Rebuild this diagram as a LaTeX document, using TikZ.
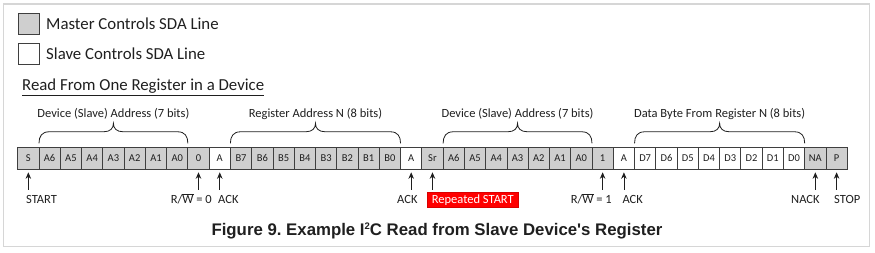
\documentclass[tikz,border=0pt]{standalone}
\usepackage{fontspec}
\setmainfont{Carlito}
\newfontfamily\titlefont{Liberation Sans}
\usetikzlibrary{arrows.meta,calc}
\definecolor{mg}{HTML}{CFCFCF}
\definecolor{txt}{HTML}{1F1F1F}
\definecolor{bd}{HTML}{3F3F3F}
\definecolor{frm}{HTML}{D6D6D6}
\definecolor{rs}{HTML}{FF0000}
\frenchspacing
\newcommand\mybrace[2]{%
  \draw[brc] let \p1=(#1.north west), \p2=(#2.north east),
    \p3=($(#1.north west)!0.5!(#2.north east)$) in
    (\x1,\y1+4pt) .. controls (\x1,\y1+11pt) and (\x1+3pt,\y1+15.5pt) .. (\x1+10pt,\y1+15.5pt)
    -- (\x3-10pt,\y1+15.5pt) .. controls (\x3-3pt,\y1+15.5pt) and (\x3,\y1+19pt) .. (\x3,\y1+24pt)
    .. controls (\x3,\y1+19pt) and (\x3+3pt,\y1+15.5pt) .. (\x3+10pt,\y1+15.5pt)
    -- (\x2-10pt,\y1+15.5pt) .. controls (\x2-3pt,\y1+15.5pt) and (\x2,\y1+11pt) .. (\x2,\y1+4pt);}
\begin{document}
\begin{tikzpicture}[x=1pt,y=-1pt,
  cell/.style={draw=bd, line width=0.8pt, minimum width=21.27pt, minimum height=22pt,
    inner sep=0pt, outer sep=0pt, anchor=west, font=\fontsize{10.5}{12}\selectfont, text=txt},
  lbl/.style={inner sep=0pt, font=\fontsize{12.5}{15}\selectfont, text=txt},
  big/.style={inner sep=0pt, font=\fontsize{16.8}{20}\selectfont, text=txt},
  arr/.style={-{Stealth[length=6.5pt,width=5.5pt]}, line width=0.8pt, draw=txt},
  brc/.style={line width=0.8pt, draw=txt}]
\useasboundingbox (0,0) rectangle (875,253);
\draw[frm, line width=1.2pt] (3.5,4) rectangle (869.5,246.5);

% legend
\node[cell, fill=mg, minimum width=21pt, minimum height=21pt] (lgm) at (18,23.8) {};
\node[big, anchor=base west] (lgmt) at (46,29.4) {Master Controls SDA Line};
\node[cell, fill=white, minimum width=21pt, minimum height=21pt] (lgs) at (18,54.2) {};
\node[big, anchor=base west] (lgst) at (46,59.8) {Slave Controls SDA Line};
\node[big, anchor=base west] (sub) at (22,90.5) {\underline{Read From One Register in a Device}};

% cells
\foreach \t/\f [count=\i from 0] in {S/mg,A6/mg,A5/mg,A4/mg,A3/mg,A2/mg,A1/mg,A0/mg,0/mg,A/white,
  B7/mg,B6/mg,B5/mg,B4/mg,B3/mg,B2/mg,B1/mg,B0/mg,A/white,Sr/mg,
  A6/mg,A5/mg,A4/mg,A3/mg,A2/mg,A1/mg,A0/mg,1/mg,A/white,
  D7/white,D6/white,D5/white,D4/white,D3/white,D2/white,D1/white,D0/white,NA/mg,P/mg}
  \node[cell, fill=\f] (c\i) at ({17.7+21.27*\i},158.3) {\t};

% braces and their labels
\mybrace{c1}{c7}
\mybrace{c10}{c17}
\mybrace{c20}{c26}
\mybrace{c29}{c36}
\node[lbl, anchor=base] (br1) at ($(c1.north west)!0.5!(c7.north east)+(0,-30)$) {Device (Slave) Address (7 bits)};
\node[lbl, anchor=base] (br2) at ($(c10.north west)!0.5!(c17.north east)+(0,-30)$) {Register Address N (8 bits)};
\node[lbl, anchor=base] (br3) at ($(c20.north west)!0.5!(c26.north east)+(0,-30)$) {Device (Slave) Address (7 bits)};
\node[lbl, anchor=base] (br4) at ($(c29.north west)!0.5!(c36.north east)+(0,-30)$) {Data Byte From Register N (8 bits)};

% arrows
\foreach \k in {0,8,9,18,19,27,28,37,38}{
  \coordinate (a\k) at ($(c\k.south)+(0,20.7)$);
  \draw[arr] (a\k) -- ([yshift=-3pt]c\k.south);
}

% arrow labels
\node[lbl, anchor=base west] (lstart) at (26,204) {START};
\node[lbl, anchor=base east] (lrw0) at (212,204) {R/$\overline{\hbox{W}}$ = 0};
\node[lbl, anchor=base west] (lack1) at (218,204) {ACK};
\node[lbl, anchor=base west] (lack2) at (397,204) {ACK};
\node[fill=rs, draw=red!85!black, line width=0.6pt, text=white, inner sep=0pt,
  font=\fontsize{12.5}{15}\selectfont, minimum width=91.6pt, minimum height=14.6pt,
  anchor=west] (lrs) at (426.7,200) {Repeated START};
\node[lbl, anchor=base east] (lrw1) at (612,204) {R/$\overline{\hbox{W}}$ = 1};
\node[lbl, anchor=base west] (lack3) at (622.3,204) {ACK};
\node[lbl, anchor=base west] (lnack) at (791,204) {NACK};
\node[lbl, anchor=base west] (lstop) at (834,204) {STOP};

% caption
\node[inner sep=0pt, anchor=base, text=txt, font=\titlefont\bfseries\fontsize{16.8}{20}\selectfont] (cap)
  at (437,236) {Figure 9. Example I\raisebox{6.5pt}{\fontsize{9.5}{10}\selectfont 2}C Read from Slave Device\char39 s Register};
\end{tikzpicture}
\end{document}
